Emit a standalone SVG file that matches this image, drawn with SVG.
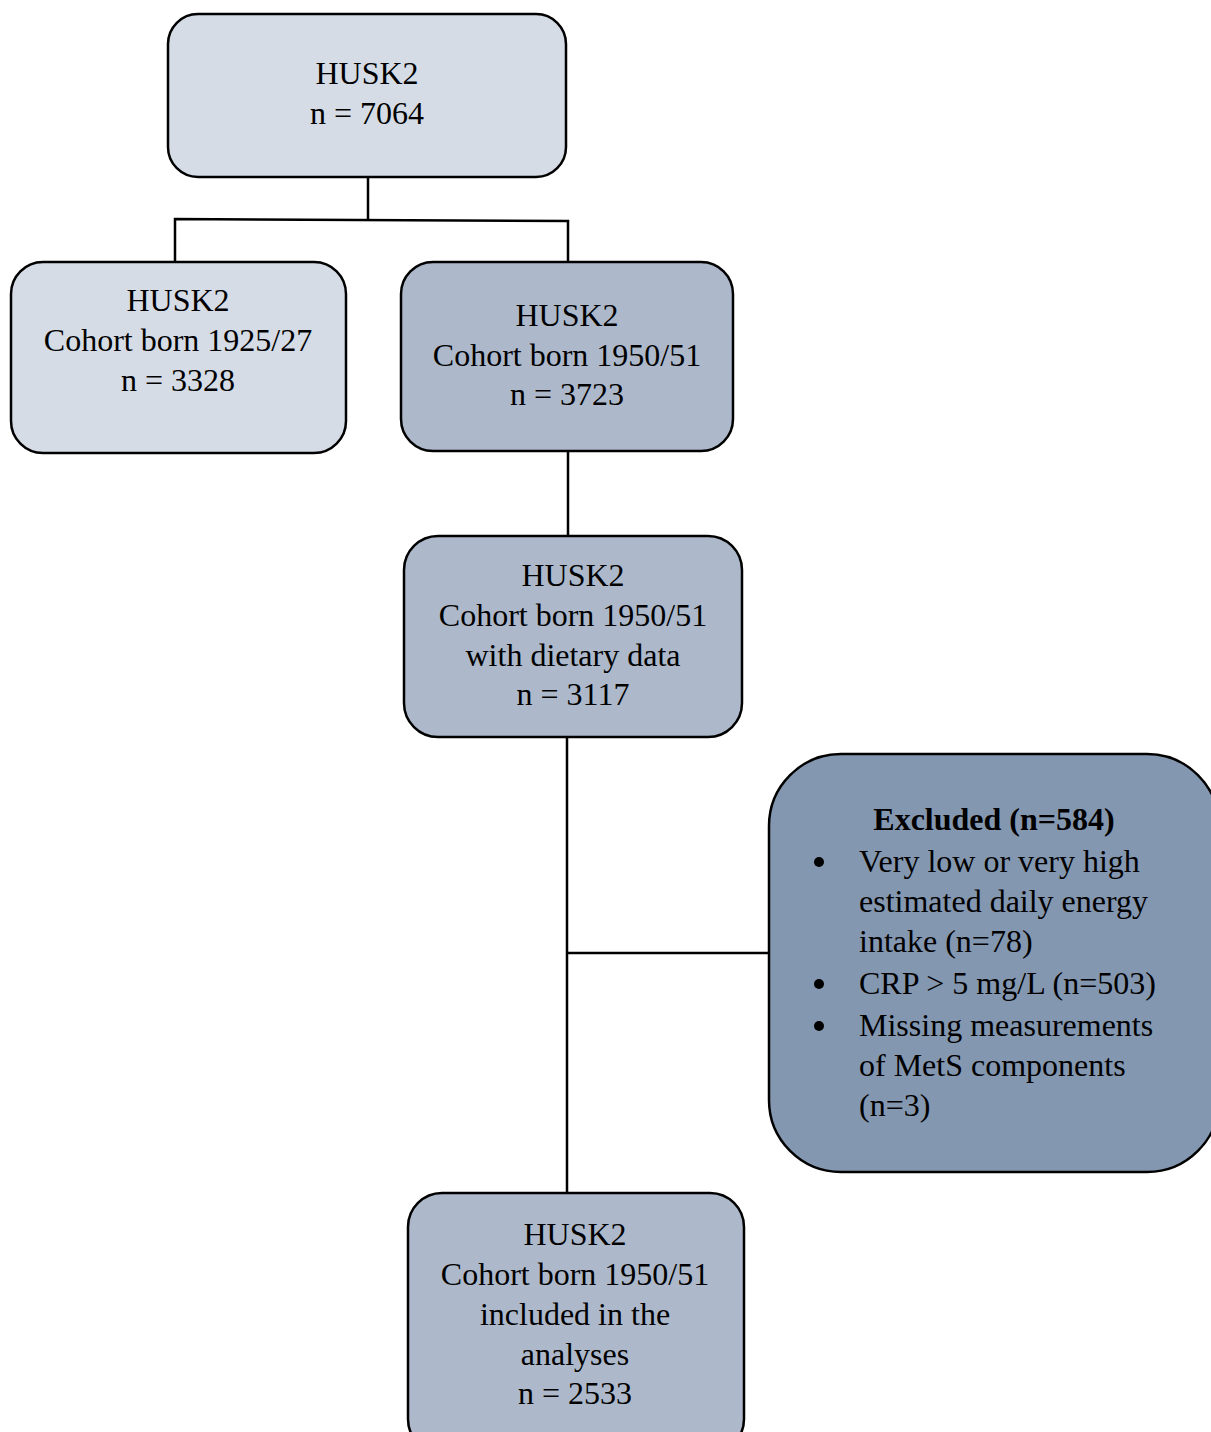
<svg xmlns="http://www.w3.org/2000/svg" width="1211" height="1432" viewBox="0 0 1211 1432">
<style>
.box{stroke:#000;stroke-width:2.5}
.l{fill:#D5DCE6}
.m{fill:#ADB9CB}
.d{fill:#8497B0}
text{font-family:"Liberation Serif","Times New Roman",serif;font-size:32px;fill:#000}
.c{text-anchor:middle}
.b{font-weight:bold}
.conn{stroke:#000;stroke-width:2.5;fill:none}
</style>
<rect width="1211" height="1432" fill="#fff"/>
<g id="connectors">
<path class="conn" d="M368,177 V219"/>
<path class="conn" d="M175,262 V219 L568,221 V262"/>
<path class="conn" d="M568,451 V536"/>
<path class="conn" d="M567,737 V1193"/>
<path class="conn" d="M567,953 H770"/>
</g>
<g id="husk2">
<rect class="box l" x="168" y="14" width="398" height="163" rx="30"/>
<text class="c" x="367" y="84">HUSK2</text>
<text class="c" x="367" y="124">n = 7064</text>
</g>
<g id="cohort1925">
<rect class="box l" x="11" y="262" width="335" height="191" rx="32"/>
<text class="c" x="178" y="311">HUSK2</text>
<text class="c" x="178" y="351">Cohort born 1925/27</text>
<text class="c" x="178" y="391">n = 3328</text>
</g>
<g id="cohort1950">
<rect class="box m" x="401" y="262" width="332" height="189" rx="32"/>
<text class="c" x="567" y="326">HUSK2</text>
<text class="c" x="567" y="366">Cohort born 1950/51</text>
<text class="c" x="567" y="405">n = 3723</text>
</g>
<g id="dietary">
<rect class="box m" x="404" y="536" width="338" height="201" rx="34"/>
<text class="c" x="573" y="586">HUSK2</text>
<text class="c" x="573" y="626">Cohort born 1950/51</text>
<text class="c" x="573" y="666">with dietary data</text>
<text class="c" x="573" y="705">n = 3117</text>
</g>
<g id="excluded">
<rect class="box d" x="769" y="754" width="450" height="418" rx="72"/>
<text class="c b" x="994" y="830">Excluded (n=584)</text>
<circle cx="819" cy="862" r="5"/>
<circle cx="819" cy="984" r="5"/>
<circle cx="819" cy="1026" r="5"/>
<text x="859" y="872">Very low or very high</text>
<text x="859" y="912">estimated daily energy</text>
<text x="859" y="952">intake (n=78)</text>
<text x="859" y="994">CRP &gt; 5 mg/L (n=503)</text>
<text x="859" y="1036">Missing measurements</text>
<text x="859" y="1076">of MetS components</text>
<text x="859" y="1116">(n=3)</text>
</g>
<g id="included">
<rect class="box m" x="408" y="1193" width="336" height="260" rx="34"/>
<text class="c" x="575" y="1245">HUSK2</text>
<text class="c" x="575" y="1285">Cohort born 1950/51</text>
<text class="c" x="575" y="1325">included in the</text>
<text class="c" x="575" y="1365">analyses</text>
<text class="c" x="575" y="1404">n = 2533</text>
</g>
</svg>
